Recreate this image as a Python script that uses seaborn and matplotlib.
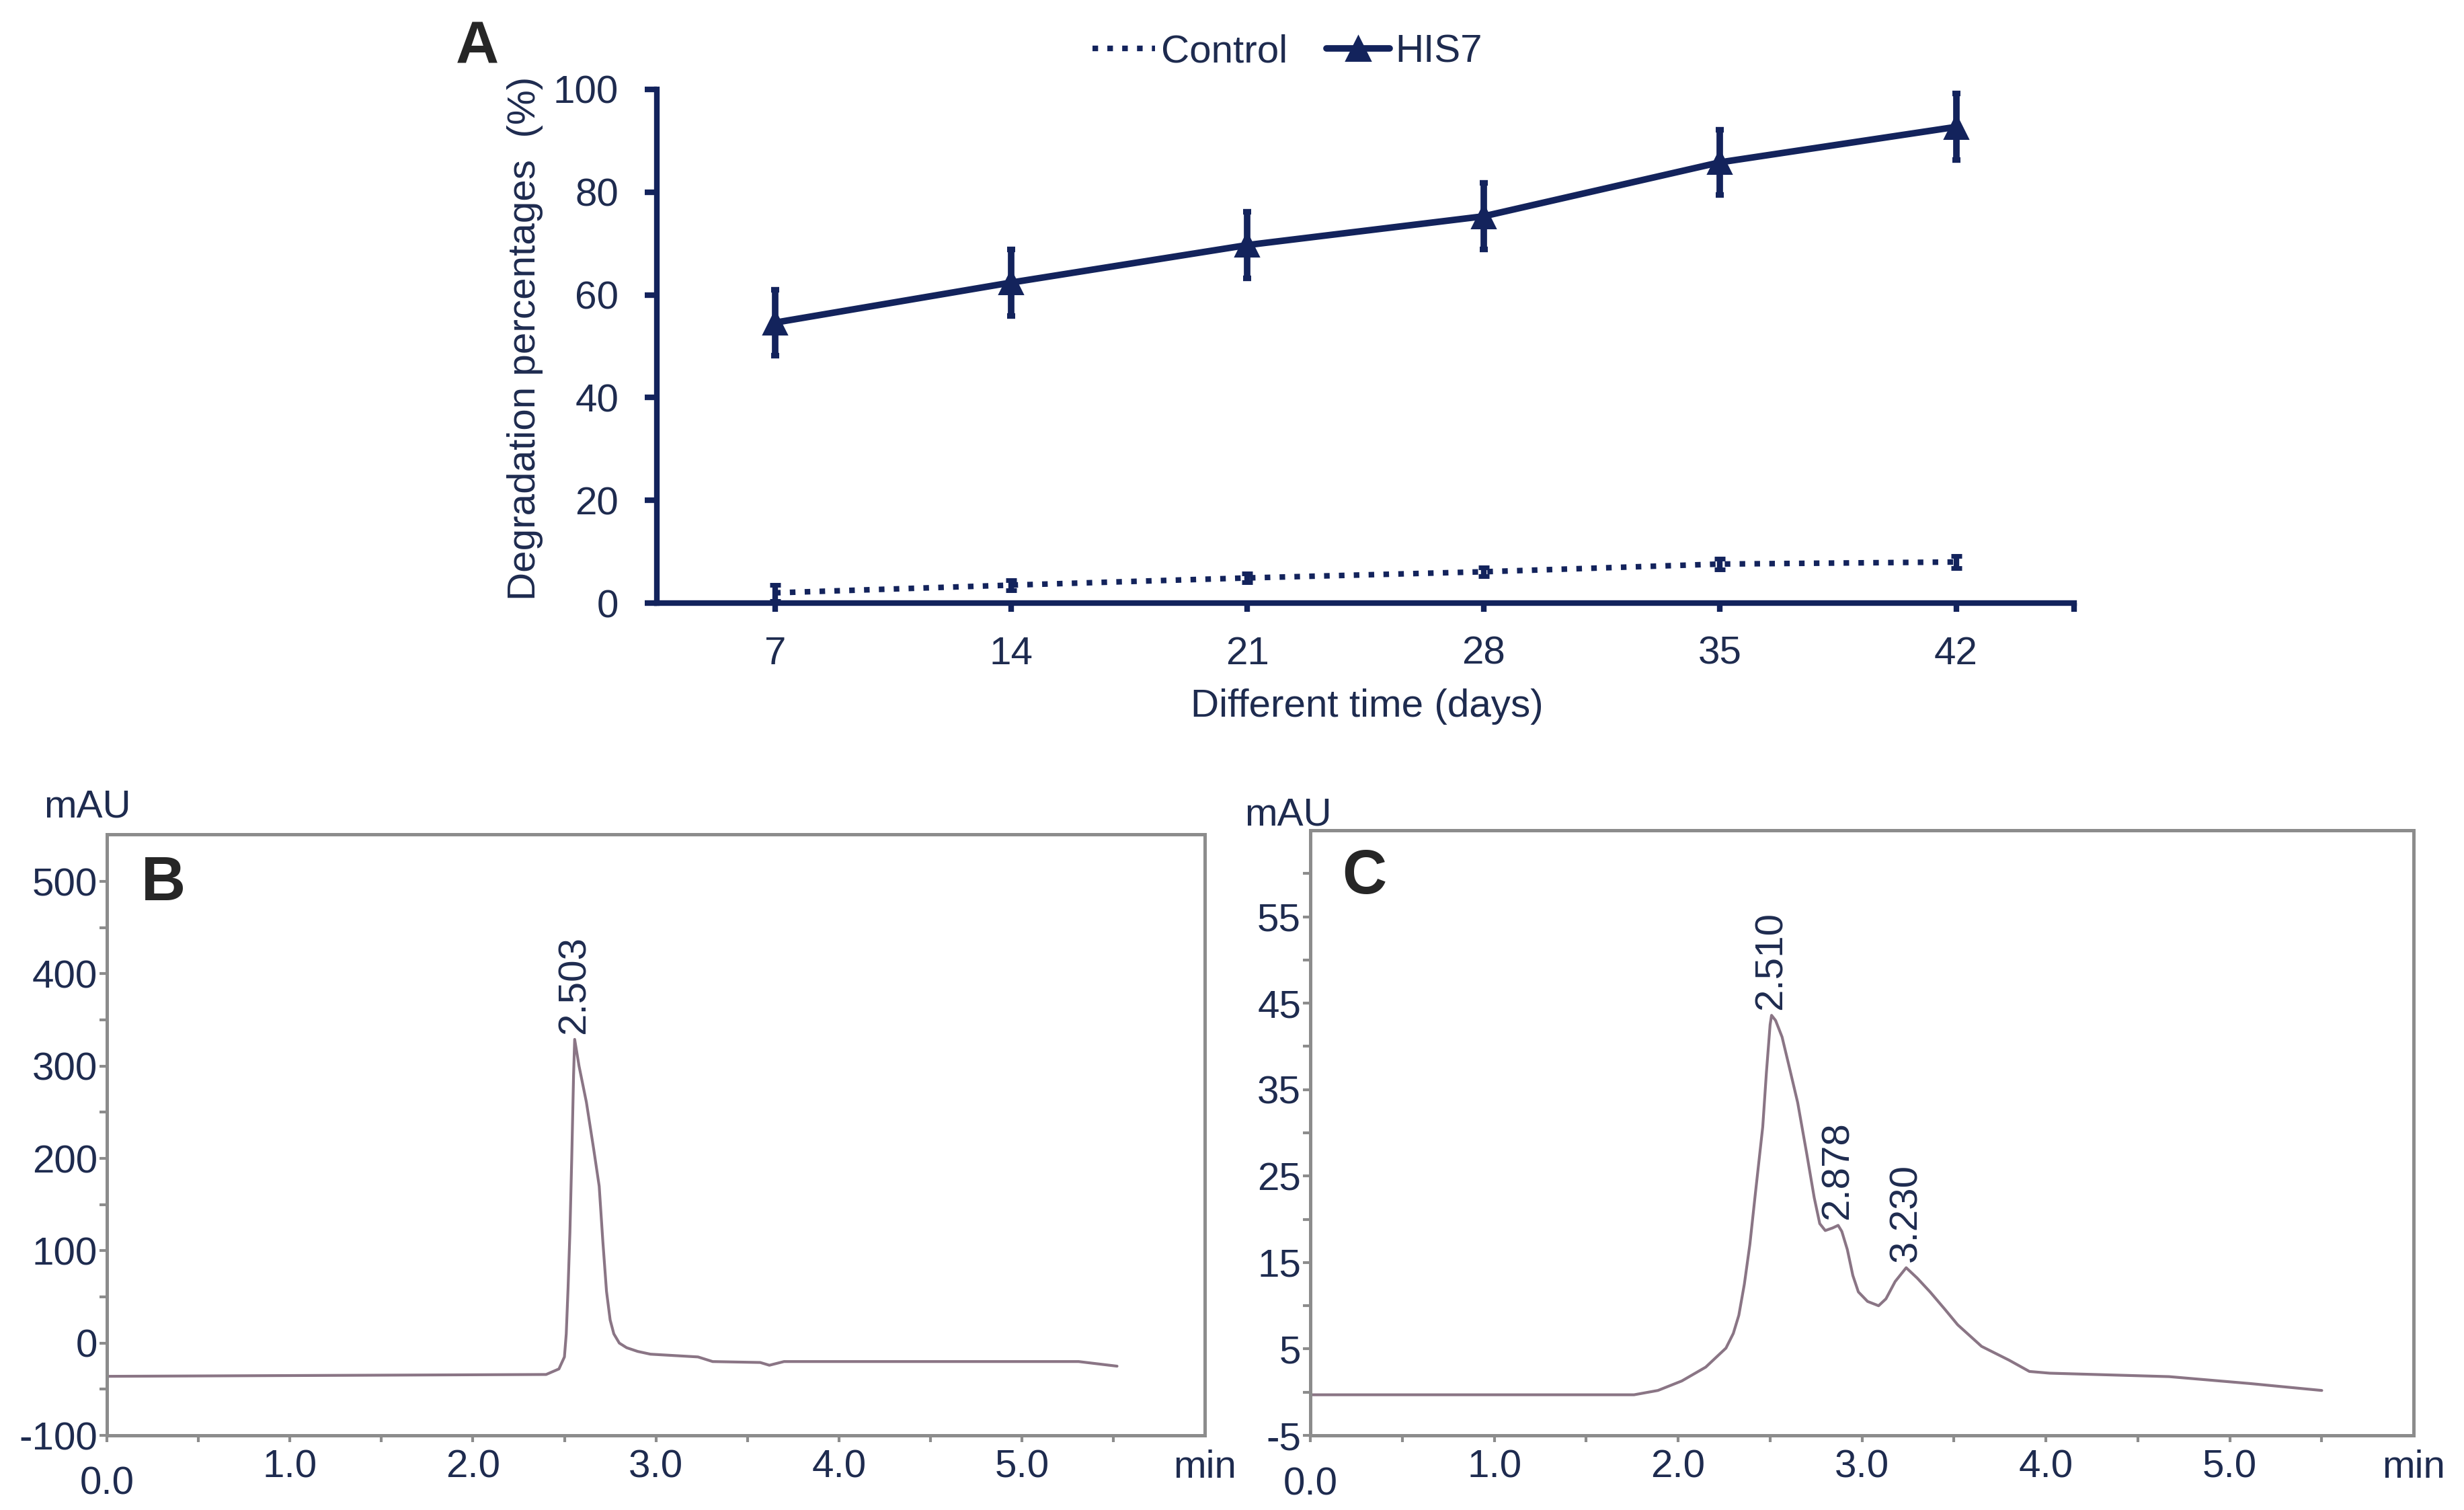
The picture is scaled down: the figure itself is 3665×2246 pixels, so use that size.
import pandas as pd
import seaborn as sns
import matplotlib.pyplot as plt
from matplotlib.lines import Line2D
from matplotlib.ticker import FixedLocator

# Panel A: degradation percentages over time (mean and error)
days = [7, 14, 21, 28, 35, 42]
control_mean = [2.0, 3.5, 4.9, 6.1, 7.6, 8.0]
control_err = [1.6, 1.0, 0.9, 0.9, 1.0, 1.2]
his7_mean = [54.6, 62.4, 69.7, 75.3, 85.8, 92.7]
his7_err = [6.4, 6.5, 6.5, 6.5, 6.4, 6.5]

# Panel B: chromatogram
b_time = [0.0, 2.40, 2.47, 2.50, 2.51, 2.52, 2.53, 2.54, 2.55, 2.556, 2.58,
          2.62, 2.66, 2.69, 2.71, 2.73, 2.75, 2.77, 2.80, 2.84, 2.90, 2.97,
          3.23, 3.31, 3.57, 3.62, 3.70, 5.31, 5.52]
b_mau = [-36, -34, -28, -15, 10, 60, 120, 200, 290, 329, 300,
         261, 210, 170, 110, 56, 25, 10, 0, -5, -9, -12,
         -15, -20, -21, -24, -20, -20, -25]
b_peak_time = [2.556]
b_peak_mau = [329]
b_peak_label = ['2.503']

# Panel C: chromatogram
c_time = [0.0, 1.76, 1.89, 2.02, 2.15, 2.26, 2.30, 2.33, 2.36, 2.39, 2.42,
          2.46, 2.48, 2.50, 2.508, 2.53, 2.565, 2.60, 2.65, 2.70, 2.74, 2.77,
          2.80, 2.84, 2.87, 2.89, 2.92, 2.95, 2.98, 3.03, 3.09, 3.13, 3.18,
          3.24, 3.30, 3.37, 3.45, 3.52, 3.65, 3.80, 3.91, 4.02, 4.67, 5.11, 5.50]
c_mau = [-0.3, -0.3, 0.2, 1.3, 2.9, 5.1, 6.8, 8.9, 12.5, 17.1, 23.0,
         30.7, 37.0, 42.5, 43.6, 43.0, 41.1, 38.0, 33.5, 27.5, 22.5, 19.5,
         18.7, 19.0, 19.3, 18.6, 16.5, 13.5, 11.6, 10.5, 10.0, 10.8, 12.8,
         14.4, 13.2, 11.6, 9.6, 7.8, 5.3, 3.7, 2.4, 2.2, 1.8, 1.0, 0.2]
c_peak_time = [2.508, 2.87, 3.24]
c_peak_mau = [43.6, 19.3, 14.4]
c_peak_label = ['2.510', '2.878', '3.230']

navy = '#13235c'
txt = '#1e2b4f'
trace = '#8a7585'
gray = '#8c8c8c'

sns.set_style('ticks')
plt.rcParams['font.family'] = ['Liberation Sans', 'DejaVu Sans']
plt.rcParams['axes.unicode_minus'] = False

fig = plt.figure(figsize=(18.325, 11.23), dpi=200)

# ---------------- A ----------------
axA = fig.add_axes([0.2666, 0.6006, 0.5752, 0.3402])
sns.lineplot(x=days, y=control_mean, ax=axA, color=navy, lw=3,
             linestyle=':', sort=False, estimator=None)
sns.lineplot(x=days, y=his7_mean, ax=axA, color=navy, lw=3.5,
             marker='^', markersize=13, markeredgecolor=navy,
             sort=False, estimator=None)
axA.errorbar(days, control_mean, yerr=control_err, fmt='none',
             ecolor=navy, elinewidth=3, capsize=3, capthick=2.5)
axA.errorbar(days, his7_mean, yerr=his7_err, fmt='none',
             ecolor=navy, elinewidth=3.5, capsize=2, capthick=3)

axA.set_xlim(3.5, 45.5)
axA.set_ylim(0, 100)
axA.set_xticks(days)
axA.set_yticks([0, 20, 40, 60, 80, 100])
axA.xaxis.set_minor_locator(FixedLocator([45.5]))
for s in ['top', 'right']:
    axA.spines[s].set_visible(False)
for s in ['left', 'bottom']:
    axA.spines[s].set_color(navy)
    axA.spines[s].set_linewidth(3)
axA.tick_params(axis='y', left=True, direction='out', length=6.5, width=3,
                color=navy, labelsize=21, labelcolor=txt, pad=14)
axA.tick_params(axis='x', which='both', bottom=True, direction='out',
                length=4.5, width=3, color=navy, labelsize=21,
                labelcolor=txt, pad=13)
axA.set_xlabel('Different time (days)', fontsize=21, color=txt)
axA.xaxis.set_label_coords(0.501, -0.166)
axA.set_ylabel('Degradation percentages  (%)', fontsize=21, color=txt)
axA.yaxis.set_label_coords(-0.08, 0.515)

handles = [Line2D([], [], color=navy, ls=':', lw=3),
           Line2D([], [], color=navy, lw=3.5, marker='^', markersize=13)]
leg = fig.legend(handles, ['Control', 'HIS7'], loc='center',
                 bbox_to_anchor=(0.5225, 0.9657), ncol=2, frameon=False,
                 handlelength=1.6, handletextpad=0.15, columnspacing=1.0,
                 fontsize=21)
for t in leg.get_texts():
    t.set_color(txt)
fig.text(0.185, 0.987, 'A', fontsize=32, fontweight='bold', va='top', ha='left')


def chromatogram(ax, x, y, ylim, major, minor, px, py, plab, letter, mau_xy):
    sns.lineplot(x=x, y=y, ax=ax, color=trace, lw=1.5, sort=False, estimator=None)
    ax.set_xlim(0, 6)
    ax.set_ylim(*ylim)
    ax.set_yticks(major)
    ax.yaxis.set_minor_locator(FixedLocator(minor))
    ax.set_xticks([0, 1, 2, 3, 4, 5, 6],
                  ['0.0', '1.0', '2.0', '3.0', '4.0', '5.0', 'min'])
    ax.xaxis.set_minor_locator(FixedLocator([0.5, 1.5, 2.5, 3.5, 4.5, 5.5]))
    for s in ax.spines.values():
        s.set_color(gray)
        s.set_linewidth(1.8)
    ax.tick_params(axis='y', which='both', left=True, direction='out',
                   length=4, width=1.5, color=gray, labelsize=21,
                   labelcolor=txt, pad=1)
    ax.tick_params(axis='x', which='both', bottom=True, direction='out',
                   length=3.5, width=1.5, color=gray, labelsize=21,
                   labelcolor=txt, pad=4)
    ax.xaxis.get_major_ticks()[0].label1.set_y(-0.028)
    ax.xaxis.get_major_ticks()[-1].tick1line.set_visible(False)
    ax.set_xlabel('')
    ax.set_ylabel('')
    for xi, yi, lab in zip(px, py, plab):
        ax.annotate(lab, (xi, yi), xytext=(0, 3), textcoords='offset points',
                    rotation=90, ha='center', va='bottom', fontsize=21, color=txt)
    ax.text(mau_xy[0], mau_xy[1], 'mAU', transform=ax.transAxes,
            ha='center', va='bottom', fontsize=21, color=txt)
    ax.text(letter[1], letter[2], letter[0], transform=ax.transAxes,
            ha='left', va='top', fontsize=33, fontweight='bold')


# ---------------- B ----------------
axB = fig.add_axes([0.0434, 0.0494, 0.4456, 0.398])
chromatogram(axB, b_time, b_mau, (-100, 551),
             [-100, 0, 100, 200, 300, 400, 500],
             [-50, 50, 150, 250, 350, 450],
             b_peak_time, b_peak_mau, b_peak_label,
             ('B', 0.031, 0.965), (-0.018, 1.015))

# ---------------- C ----------------
axC = fig.add_axes([0.5318, 0.0494, 0.4478, 0.4007])
chromatogram(axC, c_time, c_mau, (-5, 65),
             [-5, 5, 15, 25, 35, 45, 55],
             [0, 10, 20, 30, 40, 50, 60],
             c_peak_time, c_peak_mau, c_peak_label,
             ('C', 0.0286, 0.97), (-0.020, 0.995))

fig.savefig('out.png', dpi=200)
